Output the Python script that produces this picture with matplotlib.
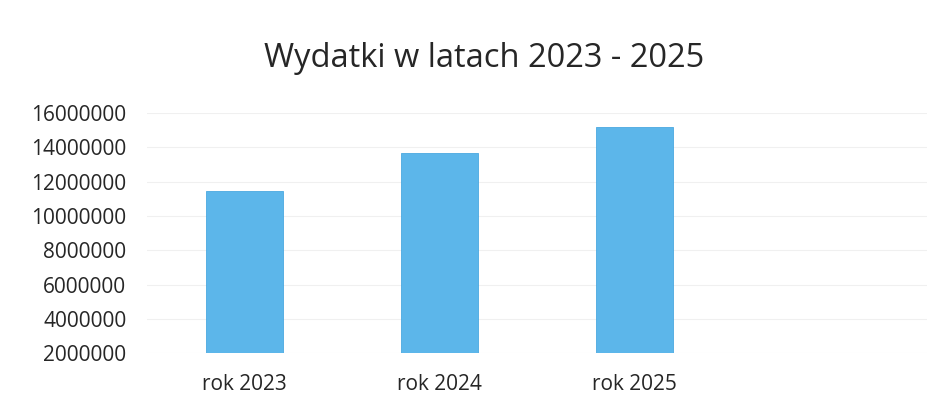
import matplotlib
matplotlib.use('Agg')
import matplotlib.pyplot as plt

# Expenditure per year
years = ['rok 2023', 'rok 2024', 'rok 2025']
spending = [11450000, 13670000, 15190000]
yticks = [2000000, 4000000, 6000000, 8000000, 10000000, 12000000, 14000000, 16000000]

plt.rcParams['font.family'] = ['Open Sans', 'DejaVu Sans']

fig = plt.figure(figsize=(9.44, 4.05), dpi=100)
ax = fig.add_axes([0.156, 0.128, 0.8265, 0.593])

ax.bar(range(len(years)), [v - yticks[0] for v in spending], bottom=yticks[0],
       width=0.395, color='#5cb6ea', edgecolor='#4aa8e0', linewidth=0.6, zorder=3)

# the source chart leaves an empty fourth slot on the right
ax.set_xlim(-0.5, 3.5)
ax.set_ylim(yticks[0], yticks[-1])
ax.set_yticks(yticks)
ax.set_yticklabels([str(t) for t in yticks])
ax.set_xticks(range(len(years)))
ax.set_xticklabels(years)

ax.grid(axis='y', color='#f0f0f0', linewidth=0.8, zorder=0)
for s in ax.spines.values():
    s.set_visible(False)
ax.tick_params(axis='y', length=0, pad=15, labelsize=15, labelcolor='#262626')
ax.tick_params(axis='x', length=0, pad=15, labelsize=15, labelcolor='#262626')

fig.text(0.513, 0.855, 'Wydatki w latach 2023 - 2025', ha='center', va='center',
         fontsize=23.5, color='#262626')

fig.savefig('out.png', dpi=100, facecolor='white')
